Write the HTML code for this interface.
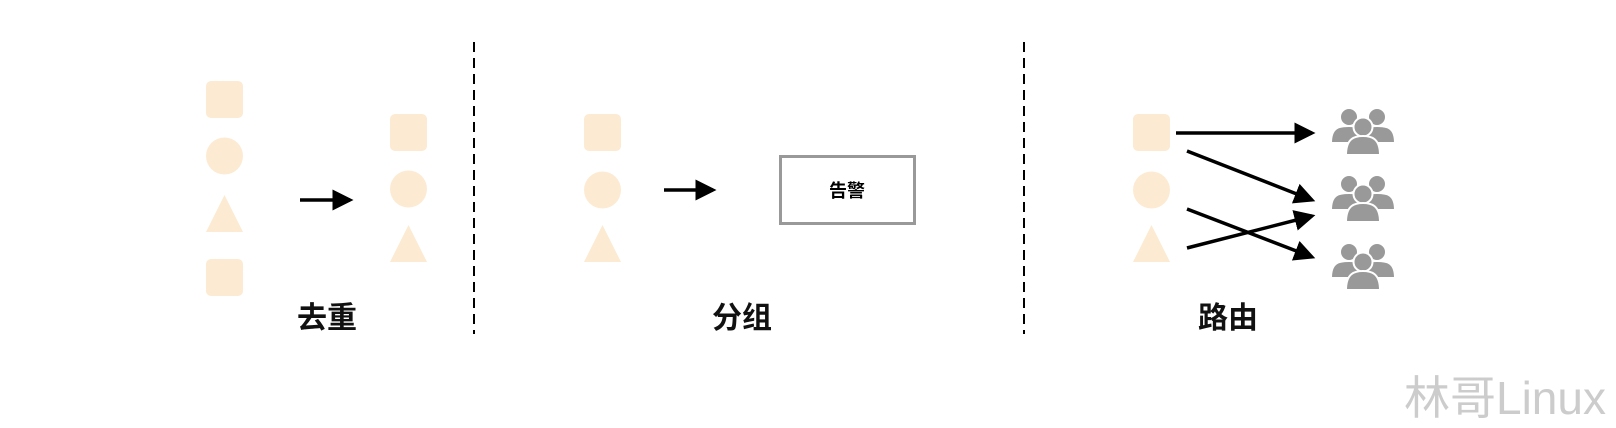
<!DOCTYPE html>
<html><head><meta charset="utf-8"><style>
body{margin:0;width:1616px;height:424px;background:#fff;overflow:hidden;position:relative;font-family:"Liberation Sans","Noto Sans CJK SC",sans-serif}
.l{position:absolute;font-weight:bold;font-size:30px;color:#111;transform:translateX(-50%)}
</style></head><body>
<svg width="1616" height="424" style="position:absolute;left:0;top:0">
<defs>
<marker id="a" markerWidth="6" markerHeight="6" refX="5" refY="3" orient="auto" markerUnits="strokeWidth"><path d="M0,0 L6,3 L0,6z" fill="#000"/></marker>
<g id="sq"><rect width="37" height="37" rx="5" fill="#fcebd2"/></g>
<g id="ci"><circle r="18.5" fill="#fcebd2"/></g>
<g id="tr"><path d="M18.5,0 L37,37 L0,37z" fill="#fcebd2"/></g>
<g id="pp" fill="#999" stroke="#fff" stroke-width="2">
<circle cx="-14" cy="-14" r="9"/><path d="M-32,12 C-32,-4 -24,-5 -14,-5 C-4,-5 4,-4 4,12 Z"/>
<circle cx="14" cy="-14" r="9"/><path d="M-4,12 C-4,-4 4,-5 14,-5 C24,-5 32,-4 32,12 Z"/>
<circle cx="0" cy="-4" r="9.5"/><path d="M-17,24 C-17,7 -8,5 0,5 C8,5 17,7 17,24 Z"/>
</g>
</defs>
<use href="#sq" x="206" y="81"/><use href="#ci" x="224.5" y="156"/><use href="#tr" x="206" y="195"/><use href="#sq" x="206" y="259"/>
<line x1="300" y1="200" x2="350" y2="200" stroke="#000" stroke-width="3.5" marker-end="url(#a)"/>
<use href="#sq" x="390" y="114"/><use href="#ci" x="408.5" y="189"/><use href="#tr" x="390" y="225"/>
<line x1="474" y1="42" x2="474" y2="334" stroke="#000" stroke-width="2" stroke-dasharray="10,6"/>
<use href="#sq" x="584" y="114"/><use href="#ci" x="602.5" y="190"/><use href="#tr" x="584" y="225"/>
<line x1="664" y1="190" x2="713" y2="190" stroke="#000" stroke-width="3.5" marker-end="url(#a)"/>
<rect x="780.5" y="156.5" width="134" height="67" fill="#fff" stroke="#999" stroke-width="3"/>
<text x="847" y="197" font-size="18" font-weight="bold" text-anchor="middle" font-family="Liberation Sans,Noto Sans CJK SC,sans-serif">告警</text>
<line x1="1024" y1="42" x2="1024" y2="334" stroke="#000" stroke-width="2" stroke-dasharray="10,6"/>
<use href="#sq" x="1133" y="114"/><use href="#ci" x="1151.5" y="190"/><use href="#tr" x="1133" y="225"/>
<g stroke="#000" stroke-width="3.5" marker-end="url(#a)">
<line x1="1176" y1="133" x2="1312" y2="133"/>
<line x1="1187" y1="151" x2="1312" y2="200"/>
<line x1="1187" y1="209" x2="1312" y2="257"/>
<line x1="1187" y1="248" x2="1312" y2="216"/>
</g>
<use href="#pp" x="1363" y="131"/><use href="#pp" x="1363" y="198"/><use href="#pp" x="1363" y="266"/>
</svg>
<div class="l" style="left:327px;top:293px">去重</div>
<div class="l" style="left:742px;top:293px">分组</div>
<div class="l" style="left:1228px;top:293px">路由</div>
<div style="position:absolute;left:1404px;top:362px;font-size:46px;color:#ccc;font-family:'Liberation Sans','Noto Sans CJK SC',sans-serif">林哥Linux</div>
</body></html>
